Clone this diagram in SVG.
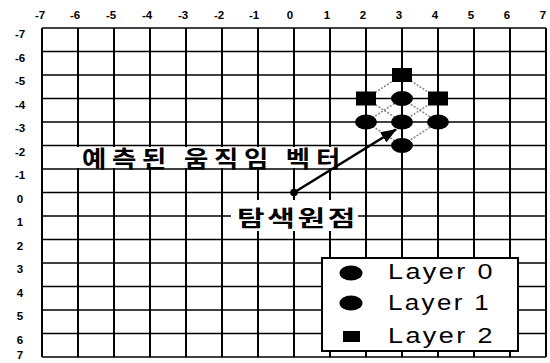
<svg xmlns="http://www.w3.org/2000/svg" width="550" height="363" viewBox="0 0 550 363">
<style>
.bg{fill:#fff}
.v{stroke:#000;stroke-width:2}
.h{stroke:#000;stroke-width:1.6}
.ax{font-family:"Liberation Sans",Arial,sans-serif;font-size:11.5px;font-weight:bold;fill:#000;text-anchor:middle}
.kr{font-family:"Noto Sans CJK KR","Noto Sans CJK SC",sans-serif;font-weight:bold;fill:#000}
.lg{font-family:"Liberation Sans",Arial,sans-serif;font-size:22px;letter-spacing:2px;fill:#000}
.gd{stroke:#8a8a8a;stroke-width:1.6;stroke-dasharray:2 1.5;fill:none}
.pt{fill:#000}
</style>
<defs>
<marker id="ah" markerUnits="userSpaceOnUse" markerWidth="16" markerHeight="12" refX="15" refY="6" orient="auto">
<path d="M0,0 L16,6 L0,12 Z" fill="#000"/>
</marker>
</defs>
<rect class="bg" x="0" y="0" width="550" height="363"/>
<g id="grid">
<g id="vlines">
<line class="v" x1="42" y1="28" x2="42" y2="357"/>
<line class="v" x1="78" y1="28" x2="78" y2="357"/>
<line class="v" x1="114" y1="28" x2="114" y2="357"/>
<line class="v" x1="150" y1="28" x2="150" y2="357"/>
<line class="v" x1="186" y1="28" x2="186" y2="357"/>
<line class="v" x1="222" y1="28" x2="222" y2="357"/>
<line class="v" x1="258" y1="28" x2="258" y2="357"/>
<line class="v" x1="294" y1="28" x2="294" y2="357"/>
<line class="v" x1="330" y1="28" x2="330" y2="357"/>
<line class="v" x1="366" y1="28" x2="366" y2="357"/>
<line class="v" x1="402" y1="28" x2="402" y2="357"/>
<line class="v" x1="438" y1="28" x2="438" y2="357"/>
<line class="v" x1="474" y1="28" x2="474" y2="357"/>
<line class="v" x1="510" y1="28" x2="510" y2="357"/>
<line class="v" x1="546" y1="28" x2="546" y2="357"/>
</g>
<g id="hlines">
<line class="h" x1="42" y1="28" x2="546" y2="28"/>
<line class="h" x1="42" y1="51.5" x2="546" y2="51.5"/>
<line class="h" x1="42" y1="75" x2="546" y2="75"/>
<line class="h" x1="42" y1="98.5" x2="546" y2="98.5"/>
<line class="h" x1="42" y1="122" x2="546" y2="122"/>
<line class="h" x1="42" y1="145.5" x2="546" y2="145.5"/>
<line class="h" x1="42" y1="169" x2="546" y2="169"/>
<line class="h" x1="42" y1="192.5" x2="546" y2="192.5"/>
<line class="h" x1="42" y1="216" x2="546" y2="216"/>
<line class="h" x1="42" y1="239.5" x2="546" y2="239.5"/>
<line class="h" x1="42" y1="263" x2="546" y2="263"/>
<line class="h" x1="42" y1="286.5" x2="546" y2="286.5"/>
<line class="h" x1="42" y1="310" x2="546" y2="310"/>
<line class="h" x1="42" y1="333.5" x2="546" y2="333.5"/>
<line class="h" x1="42" y1="357" x2="546" y2="357"/>
</g>
<g id="xlabels">
<text class="ax" x="40" y="19">-7</text>
<text class="ax" x="75" y="19">-6</text>
<text class="ax" x="111" y="19">-5</text>
<text class="ax" x="147" y="19">-4</text>
<text class="ax" x="183" y="19">-3</text>
<text class="ax" x="219" y="19">-2</text>
<text class="ax" x="254" y="19">-1</text>
<text class="ax" x="290" y="19">0</text>
<text class="ax" x="327" y="19">1</text>
<text class="ax" x="363" y="19">2</text>
<text class="ax" x="399" y="19">3</text>
<text class="ax" x="435" y="19">4</text>
<text class="ax" x="471" y="19">5</text>
<text class="ax" x="507" y="19">6</text>
<text class="ax" x="543" y="19">7</text>
</g>
<g id="ylabels">
<text class="ax" x="20" y="38">-7</text>
<text class="ax" x="20" y="61.5">-6</text>
<text class="ax" x="20" y="85">-5</text>
<text class="ax" x="20" y="108.5">-4</text>
<text class="ax" x="20" y="132">-3</text>
<text class="ax" x="20" y="155.5">-2</text>
<text class="ax" x="20" y="179">-1</text>
<text class="ax" x="20" y="202.5">0</text>
<text class="ax" x="20" y="226">1</text>
<text class="ax" x="20" y="249.5">2</text>
<text class="ax" x="20" y="273">3</text>
<text class="ax" x="20" y="296.5">4</text>
<text class="ax" x="20" y="320">5</text>
<text class="ax" x="20" y="343.5">6</text>
<text class="ax" x="20" y="359">7</text>
</g>
</g>
<g id="search-pattern-lines">
<polyline class="gd" points="402,75 438,98.5 402,122 366,98.5 402,75"/>
<polyline class="gd" points="402,98.5 438,122 402,145.5 366,122 402,98.5"/>
</g>
<g id="layer2">
<rect class="pt" x="392" y="68" width="20" height="14"/>
<rect class="pt" x="356" y="91.5" width="20" height="14"/>
<rect class="pt" x="428" y="91.5" width="20" height="14"/>
</g>
<g id="layer1">
<ellipse class="pt" cx="402" cy="98.5" rx="11" ry="7.5"/>
<ellipse class="pt" cx="366" cy="122" rx="11" ry="7.5"/>
<ellipse class="pt" cx="438" cy="122" rx="11" ry="7.5"/>
<ellipse class="pt" cx="402" cy="145.5" rx="11" ry="7.5"/>
</g>
<g id="layer0">
<ellipse class="pt" cx="402" cy="122" rx="11" ry="7.5"/>
</g>
<g id="label-vector">
<rect class="bg" x="72" y="147" width="279" height="21"/>
<text class="kr" x="82" y="167" font-size="23" letter-spacing="5" textLength="264" lengthAdjust="spacingAndGlyphs">예측된 움직임 벡터</text>
</g>
<g id="label-origin">
<rect class="bg" x="231" y="200" width="127" height="31"/>
<text class="kr" x="237" y="226" font-size="22" letter-spacing="2" textLength="121" lengthAdjust="spacingAndGlyphs">탐색원점</text>
</g>
<g id="connectors">
<line x1="294" y1="192.5" x2="396" y2="129.5" stroke="#000" stroke-width="2.6" marker-end="url(#ah)"/>
</g>
<g id="origin">
<circle cx="294" cy="192.5" r="3.8" fill="#000"/>
</g>
<g id="legend">
<rect x="322" y="258" width="196" height="93" fill="#fff" stroke="#000" stroke-width="2"/>
<ellipse class="pt" cx="351" cy="273" rx="11.5" ry="7.5"/>
<ellipse class="pt" cx="351" cy="303" rx="11.5" ry="7.5"/>
<rect class="pt" x="343" y="331" width="17" height="11"/>
<text class="lg" x="388" y="279" textLength="107" lengthAdjust="spacingAndGlyphs">Layer 0</text>
<text class="lg" x="388" y="310" textLength="103" lengthAdjust="spacingAndGlyphs">Layer 1</text>
<text class="lg" x="388" y="343" textLength="107" lengthAdjust="spacingAndGlyphs">Layer 2</text>
</g>
</svg>
